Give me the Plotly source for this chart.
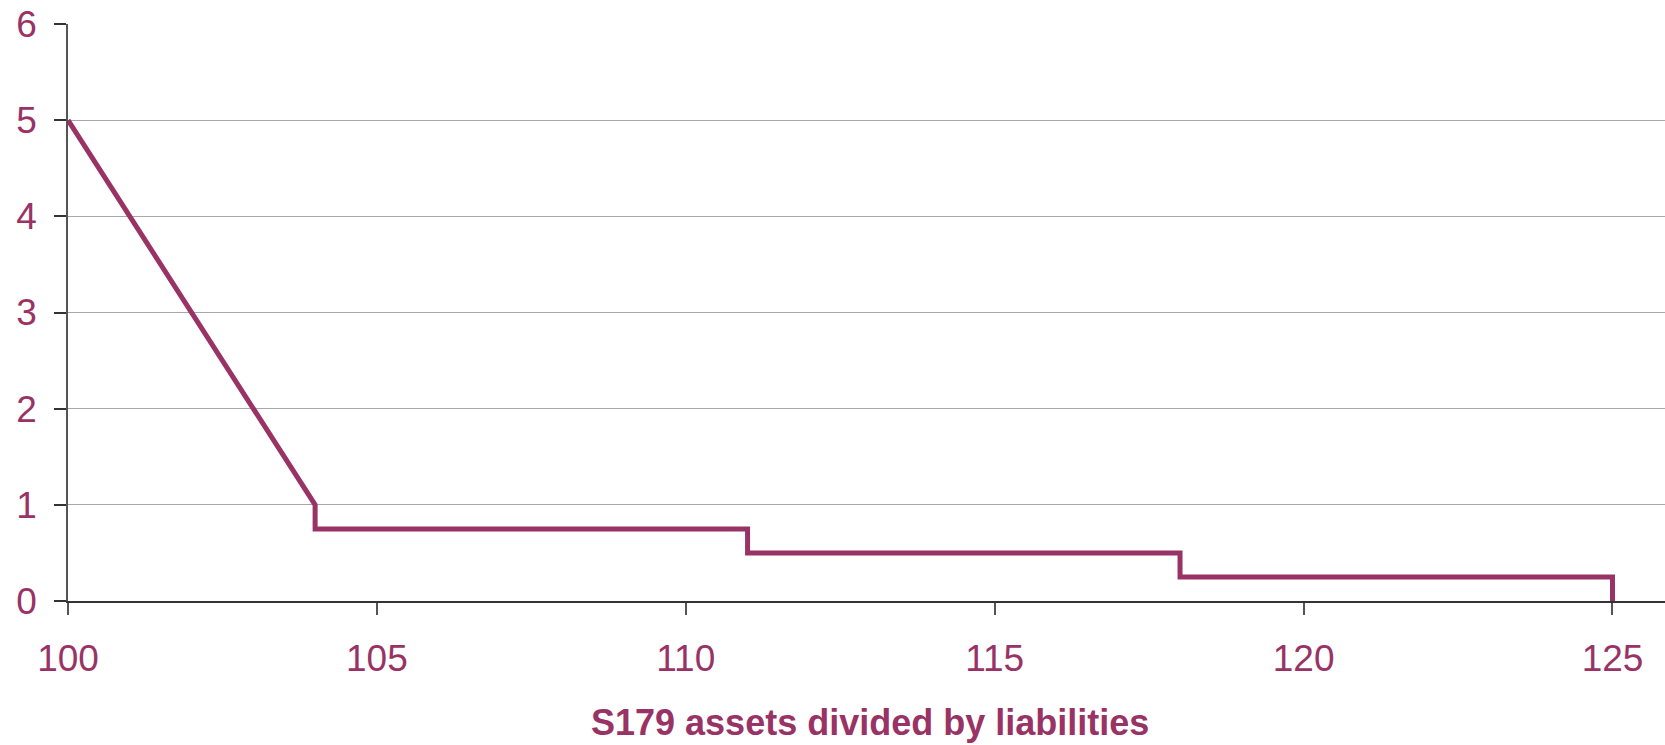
import plotly.graph_objects as go

x_vals = [100, 104, 104, 111, 111, 118, 118, 124, 125, 125]
y_vals = [5, 1, 0.75, 0.75, 0.5, 0.5, 0.25, 0.25, 0.25, 0]
x_ticks = [100, 105, 110, 115, 120, 125]
y_ticks = [0, 1, 2, 3, 4, 5, 6]
x_title = "S179 assets divided by liabilities"

plum = "#993366"

fig = go.Figure()
fig.add_trace(go.Scatter(x=x_vals, y=y_vals, mode="lines",
                         line=dict(color=plum, width=5), showlegend=False,
                         hoverinfo="skip"))

fig.update_layout(
    width=1665, height=745,
    margin=dict(l=68, r=0, t=24, b=144),
    paper_bgcolor="white", plot_bgcolor="white",
    font=dict(family="Liberation Sans, Arial, sans-serif", color=plum),
)
fig.update_xaxes(range=[100, 125.85], tickvals=x_ticks, ticks="outside", ticklen=12,
                 tickcolor="#555555", tickwidth=1.5, showline=True, linecolor="#333333",
                 linewidth=1.5, showgrid=False, zeroline=False,
                 tickfont=dict(size=37, color=plum), ticklabelstandoff=12)
fig.update_yaxes(range=[0, 6], tickvals=y_ticks, ticks="outside", ticklen=12,
                 tickcolor="#333333", tickwidth=1.5, showline=True, linecolor="#555555",
                 linewidth=1.5, showgrid=True, gridcolor="#A8A8A8", gridwidth=1,
                 zeroline=False, tickfont=dict(size=37, color=plum), ticklabelstandoff=10)

fig.add_annotation(text="<b>" + x_title + "</b>", xref="paper", yref="paper",
                   x=0.502, y=-0.211, xanchor="center", yanchor="middle",
                   showarrow=False, font=dict(size=36, color=plum))

fig.write_html("out.html", config={"displayModeBar": False},
               post_script="document.body.style.margin='0';document.body.style.overflow='hidden';")
